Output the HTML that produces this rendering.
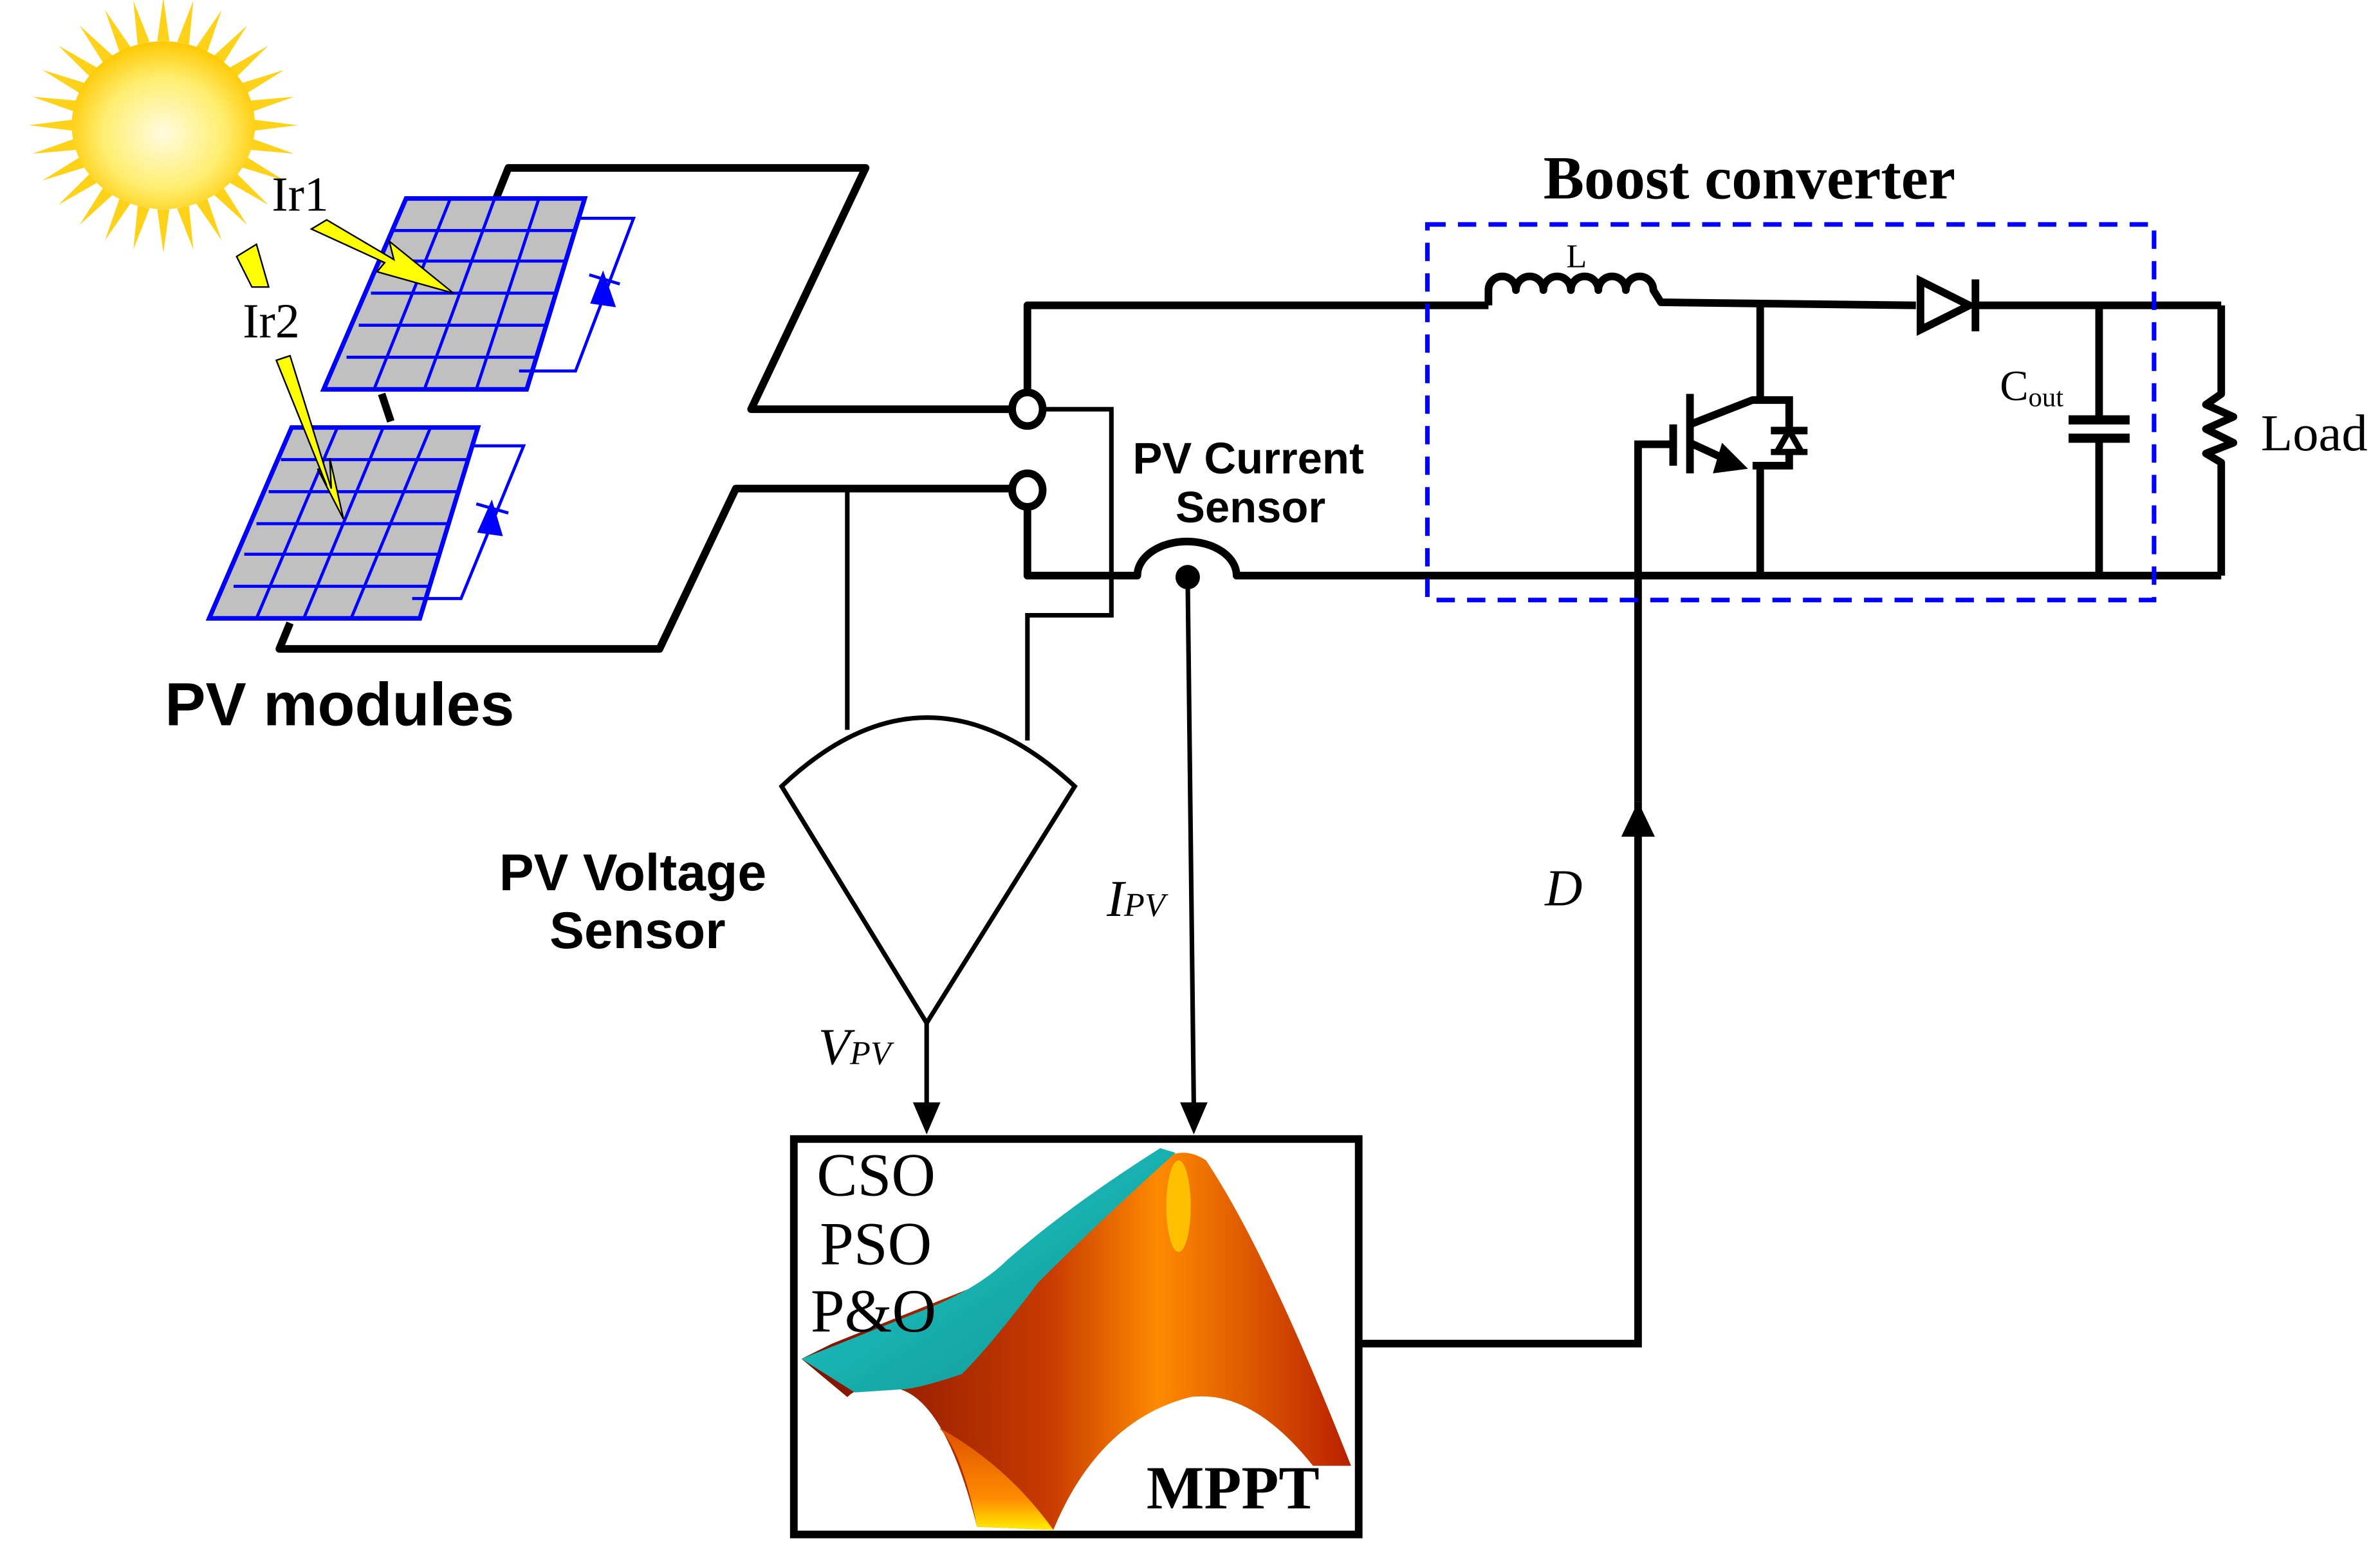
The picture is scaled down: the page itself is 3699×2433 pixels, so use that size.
<!DOCTYPE html>
<html><head><meta charset="utf-8"><style>
html,body{margin:0;padding:0;background:#fff;}
svg{display:block;}
</style></head><body>
<svg width="3699" height="2433" viewBox="0 0 1559 1025" preserveAspectRatio="none" xmlns="http://www.w3.org/2000/svg">
<defs>
<radialGradient id="sun" cx="50%" cy="55%" r="55%">
<stop offset="0" stop-color="#fffbe0"/><stop offset="0.6" stop-color="#ffee70"/><stop offset="1" stop-color="#ffc800"/>
</radialGradient>
<linearGradient id="org" x1="0" y1="0" x2="1" y2="0">
<stop offset="0" stop-color="#7a1000"/><stop offset="0.45" stop-color="#c83a00"/><stop offset="0.65" stop-color="#ff8a00"/><stop offset="1" stop-color="#b82000"/>
</linearGradient>
<linearGradient id="org2" x1="0" y1="0" x2="0" y2="1">
<stop offset="0" stop-color="#e05000"/><stop offset="0.7" stop-color="#ff8c00"/><stop offset="1" stop-color="#ffee00"/>
</linearGradient>
<linearGradient id="cy" x1="0" y1="0" x2="1" y2="1">
<stop offset="0" stop-color="#20d0d0"/><stop offset="1" stop-color="#109090"/>
</linearGradient>
<polygon id="ray" points="-4,-58 0,-88 4,-58" fill="#ffd21a"/>
</defs>

<!-- sun -->
<g transform="translate(107,82) scale(1,0.95)">
<use href="#ray" transform="rotate(0)"/><use href="#ray" transform="rotate(12.9)"/><use href="#ray" transform="rotate(25.7)"/><use href="#ray" transform="rotate(38.6)"/>
<use href="#ray" transform="rotate(51.4)"/><use href="#ray" transform="rotate(64.3)"/><use href="#ray" transform="rotate(77.1)"/><use href="#ray" transform="rotate(90)"/>
<use href="#ray" transform="rotate(102.9)"/><use href="#ray" transform="rotate(115.7)"/><use href="#ray" transform="rotate(128.6)"/><use href="#ray" transform="rotate(141.4)"/>
<use href="#ray" transform="rotate(154.3)"/><use href="#ray" transform="rotate(167.1)"/><use href="#ray" transform="rotate(180)"/><use href="#ray" transform="rotate(192.9)"/>
<use href="#ray" transform="rotate(205.7)"/><use href="#ray" transform="rotate(218.6)"/><use href="#ray" transform="rotate(231.4)"/><use href="#ray" transform="rotate(244.3)"/>
<use href="#ray" transform="rotate(257.1)"/><use href="#ray" transform="rotate(270)"/><use href="#ray" transform="rotate(282.9)"/><use href="#ray" transform="rotate(295.7)"/>
<use href="#ray" transform="rotate(308.6)"/><use href="#ray" transform="rotate(321.4)"/><use href="#ray" transform="rotate(334.3)"/><use href="#ray" transform="rotate(347.1)"/>
</g>
<ellipse cx="107" cy="82" rx="60" ry="55" fill="url(#sun)"/>

<!-- black loop wires -->
<g fill="none" stroke="#000" stroke-width="5" stroke-linejoin="round">
<polyline points="325,130 333,110 567,110 492,268 663,268"/>
<polyline points="250,258 256,276"/>
<polyline points="190,408 183,425 432,425 482,320 663,320"/>
</g>

<!-- panels -->
<g stroke="#0000ff" stroke-width="3" fill="#c0c0c0">
<polygon points="266,130 383,130 345,255 212,255"/>
<polygon points="191,280 313,280 275,405 137,405"/>
</g>
<g stroke="#0000ff" stroke-width="2" fill="none">
<line x1="295" y1="130" x2="245" y2="255"/><line x1="324" y1="130" x2="278" y2="255"/><line x1="353" y1="130" x2="312" y2="255"/>
<line x1="258" y1="151" x2="377" y2="151"/><line x1="250" y1="171" x2="371" y2="171"/><line x1="243" y1="192" x2="364" y2="192"/>
<line x1="235" y1="213" x2="358" y2="213"/><line x1="227" y1="234" x2="352" y2="234"/>
<line x1="221" y1="280" x2="168" y2="405"/><line x1="251" y1="280" x2="199" y2="405"/><line x1="282" y1="280" x2="230" y2="405"/>
<line x1="184" y1="301" x2="307" y2="301"/><line x1="176" y1="322" x2="300" y2="322"/><line x1="168" y1="343" x2="294" y2="343"/>
<line x1="160" y1="363" x2="287" y2="363"/><line x1="153" y1="384" x2="281" y2="384"/>
<polyline points="379,143 415,143 377,243 340,243"/>
<polyline points="308,292 343,292 302,392 270,392"/>
</g>
<g fill="#0000ff" stroke="#0000ff" stroke-width="2">
<polygon points="395,180 388,198 402,200"/><line x1="386" y1="180" x2="406" y2="186"/>
<polygon points="322,330 314,348 328,350"/><line x1="312" y1="330" x2="333" y2="336"/>
</g>

<!-- yellow arrows -->
<g fill="#ffff00" stroke="#000" stroke-width="1">
<polygon points="204,150 214,144 258,170 255,158 297,192 247,178 252,172"/>
<polygon points="181,236 190,233 217,320 216,300 225,340 208,307 214,318"/>
<polygon points="155,168 168,160 176,188 165,188"/>
</g>
<g font-family="Liberation Serif, serif" font-size="32" fill="#000">
<text x="178" y="138">Ir1</text>
<text x="159" y="221">Ir2</text>
</g>

<!-- terminals -->
<g fill="#fff" stroke="#000" stroke-width="5">
<ellipse cx="673" cy="268" rx="10" ry="11"/>
<ellipse cx="673" cy="321" rx="10" ry="11"/>
</g>

<!-- main converter wiring -->
<g fill="none" stroke="#000" stroke-width="5" stroke-linejoin="round">
<polyline points="673,257 673,200 975,200"/>
<path d="M975,200 L975,190 a9,9 0 0 1 18,0 a9,9 0 0 1 18,0 a9,9 0 0 1 18,0 a9,9 0 0 1 18,0 a9,9 0 0 1 18,0 a9,9 0 0 1 18,0 L1088,198 L1255,200"/>
<line x1="1295" y1="200" x2="1455" y2="200"/>
<polyline points="1455,200 1455,258 1445,265 1463,273 1445,281 1463,290 1445,297 1455,303 1455,377"/>
<path d="M1455,377 L810,377 A32,22 0 0 0 745,377 L673,377 L673,332"/>
<line x1="1153" y1="200" x2="1153" y2="262"/>
<line x1="1153" y1="305" x2="1153" y2="377"/>
<line x1="1375" y1="200" x2="1375" y2="275"/>
<line x1="1375" y1="287" x2="1375" y2="377"/>
<line x1="1355" y1="275" x2="1395" y2="275" stroke-width="6"/>
<line x1="1355" y1="287" x2="1395" y2="287" stroke-width="6"/>
</g>
<polygon points="1258,184 1258,216 1290,200" fill="#fff" stroke="#000" stroke-width="5"/>
<line x1="1294" y1="183" x2="1294" y2="217" stroke="#000" stroke-width="5"/>
<g stroke="#000" stroke-width="5" fill="none">
<polyline points="1073,525 1073,291 1096,291 1096,278"/>
<line x1="1096" y1="278" x2="1096" y2="305"/>
<line x1="1107" y1="258" x2="1107" y2="310"/>
<polyline points="1107,278 1148,262 1172,262 1172,305 1148,305"/>
<line x1="1107" y1="290" x2="1133" y2="302"/>
<line x1="1160" y1="282" x2="1184" y2="282"/>
</g>
<polygon points="1128,290 1145,307 1122,310" fill="#000"/>
<polygon points="1172,282 1164,296 1180,296" fill="#fff" stroke="#000" stroke-width="4"/>
<line x1="1160" y1="296" x2="1184" y2="296" stroke="#000" stroke-width="4"/>

<!-- thin sensor lines -->
<g fill="none" stroke="#000" stroke-width="3">
<polyline points="683,268 728,268 728,403 673,403 673,485"/>
<line x1="555" y1="320" x2="555" y2="478"/>
<path d="M512,515 Q607,425 704,515 L607,670 Z"/>
<line x1="607" y1="670" x2="607" y2="725"/>
<line x1="778" y1="380" x2="782" y2="725"/>
</g>
<circle cx="778" cy="378" r="8" fill="#000"/>
<polygon points="598,722 616,722 607,743" fill="#000"/>
<polygon points="773,722 791,722 782,743" fill="#000"/>

<polyline points="892,880 1073,880 1073,525" fill="none" stroke="#000" stroke-width="5"/>
<polygon points="1062,548 1084,548 1073,525" fill="#000"/>

<rect x="935" y="147" width="476" height="246" fill="none" stroke="#0000ff" stroke-width="3" stroke-dasharray="12,8"/>

<!-- MPPT box -->
<path d="M545,880 L670,830 Q720,800 760,760 Q775,750 790,760 Q830,820 885,960 L860,960 Q820,910 780,915 Q720,930 690,1002 L640,1000 Q620,920 590,910 Q565,905 555,915 L525,890 Z" fill="url(#org)"/>
<path d="M690,1002 Q720,930 780,915 Q820,910 860,960 L860,990 L690,1002 Z" fill="#fff"/>
<path d="M640,1000 Q630,950 615,935 Q660,960 690,1002 Z" fill="url(#org2)"/>
<path d="M525,890 L600,860 Q640,845 660,825 Q700,790 760,752 L770,755 Q720,800 680,840 Q650,880 630,900 Q600,910 590,910 L560,912 Z" fill="url(#cy)"/>
<ellipse cx="772" cy="790" rx="8" ry="30" fill="#ffd000" opacity="0.8"/>
<rect x="520" y="746" width="370" height="259" fill="none" stroke="#000" stroke-width="5"/>
<g font-family="Liberation Serif, serif" font-size="40" fill="#000">
<text x="535" y="783">CSO</text>
<text x="537" y="828">PSO</text>
<text x="531" y="872">P&amp;O</text>
<text x="751" y="988" font-weight="bold">MPPT</text>
</g>

<!-- labels -->
<g font-family="Liberation Sans, sans-serif" font-weight="bold" fill="#000">
<text x="108" y="475" font-size="40">PV modules</text>
<text x="327" y="583" font-size="34">PV Voltage</text>
<text x="360" y="621" font-size="34">Sensor</text>
<text x="742" y="310" font-size="29">PV Current</text>
<text x="770" y="342" font-size="29">Sensor</text>
</g>
<g font-family="Liberation Serif, serif" fill="#000">
<text x="1011" y="130" font-size="40" font-weight="bold">Boost converter</text>
<text x="1026" y="175" font-size="22">L</text>
<text x="1310" y="262" font-size="28">C<tspan font-size="18" dy="4">out</tspan></text>
<text x="1481" y="295" font-size="34">Load</text>
<text x="536" y="697" font-size="34" font-style="italic">V<tspan font-size="22">PV</tspan></text>
<text x="725" y="600" font-size="34" font-style="italic">I<tspan font-size="22">PV</tspan></text>
<text x="1012" y="593" font-size="34" font-style="italic">D</text>
</g>
</svg>
</body></html>
